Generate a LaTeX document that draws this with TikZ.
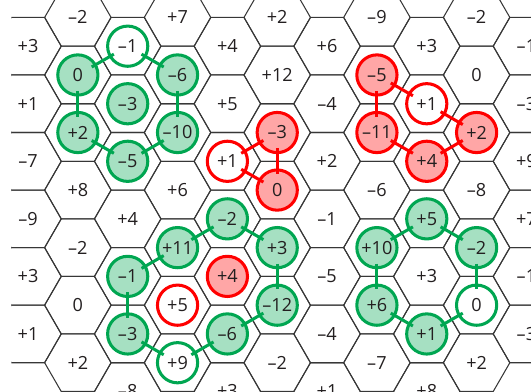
\documentclass[tikz,border=0pt]{standalone}
\usepackage{fontspec}
\setmainfont{Open Sans}
\definecolor{hexgreen}{RGB}{0, 166, 81}
\definecolor{hexred}{RGB}{255, 0, 0}
\definecolor{gridgray}{RGB}{55, 55, 55}
\definecolor{numgray}{RGB}{35, 31, 32}
\usetikzlibrary{positioning}

\begin{document}
\begin{tikzpicture}[
    hexline/.style={draw=gridgray, line width=0.9pt},
    cell/.style={circle, minimum size=1.21cm, inner sep=0pt, text=numgray,
                 font=\fontsize{15.5}{18}\selectfont},
    mkn/.style={},
    mkg/.style={draw=hexgreen, fill=hexgreen!35, line width=2.6pt},
    mkG/.style={draw=hexgreen, line width=2.6pt},
    mkr/.style={draw=hexred, fill=hexred!35, line width=2.6pt},
    mkR/.style={draw=hexred, line width=2.6pt},
    link/.style={line width=2.6pt, shorten <=-0.17cm, shorten >=-0.17cm},
    glink/.style={link, draw=hexgreen},
    rlink/.style={link, draw=hexred}
  ]
  \useasboundingbox (0,0) rectangle (15.98,-11.77);
  \clip (0.343,0) rectangle (15.98,-11.77);

  % hex grid, one column at a time: value/mark
  \foreach \c/\vals in {
      0/{+3/n,+1/n,–7/n,–9/n,+3/n,+1/n},
      1/{–2/n,0/g,+2/g,+8/n,–2/n,0/n,+2/n},
      2/{–1/G,–3/g,–5/g,+4/n,–1/g,–3/g,–8/n},
      3/{+7/n,–6/g,–10/g,+6/n,+11/g,+5/R,+9/G},
      4/{+4/n,+5/n,+1/R,–2/g,+4/r,–6/g,+3/n},
      5/{+2/n,+12/n,–3/r,0/r,+3/g,–12/g,–2/n},
      6/{+6/n,–4/n,+2/n,–1/n,–5/n,–4/n,+1/n},
      7/{–9/n,–5/r,–11/r,–6/n,+10/g,+6/g,–7/n},
      8/{+3/n,+1/R,+4/r,+5/g,+3/n,+1/g,+8/n},
      9/{–2/n,0/n,+2/r,–8/n,–2/g,0/G,+2/n},
      10/{–1/n,–3/n,+9/n,+7/n,–1/n,–3/n}}{
    \pgfmathsetmacro\cx{0.843+1.5*\c}
    \foreach \v/\m [count=\r from 0] in \vals {
      \pgfmathsetmacro\cy{-1.39+0.866*mod(\c,2)-1.732*\r}
      \draw[hexline] (\cx,\cy) +(0:1) -- +(60:1) -- +(120:1) -- +(180:1)
        -- +(240:1) -- +(300:1) -- cycle;
      \node[cell, mk\m] (c\c-\r) at (\cx,\cy) {\v};
    }
  }

  % green, upper left
  \draw[glink] (c1-1) -- (c2-0);
  \draw[glink] (c2-0) -- (c3-1);
  \draw[glink] (c1-1) -- (c1-2);
  \draw[glink] (c3-1) -- (c3-2);
  \draw[glink] (c1-2) -- (c2-2);
  \draw[glink] (c2-2) -- (c3-2);
  % red, centre
  \draw[rlink] (c4-2) -- (c5-2);
  \draw[rlink] (c4-2) -- (c5-3);
  \draw[rlink] (c5-2) -- (c5-3);
  % red, upper right
  \draw[rlink] (c7-1) -- (c7-2);
  \draw[rlink] (c7-1) -- (c8-1);
  \draw[rlink] (c8-1) -- (c9-2);
  \draw[rlink] (c7-2) -- (c8-2);
  \draw[rlink] (c8-2) -- (c9-2);
  % green, lower left
  \draw[glink] (c4-3) -- (c3-4);
  \draw[glink] (c3-4) -- (c2-4);
  \draw[glink] (c4-3) -- (c5-4);
  \draw[glink] (c5-4) -- (c5-5);
  \draw[glink] (c2-4) -- (c2-5);
  \draw[glink] (c2-5) -- (c3-6);
  \draw[glink] (c3-6) -- (c4-5);
  \draw[glink] (c4-5) -- (c5-5);
  % green, lower right
  \draw[glink] (c8-3) -- (c7-4);
  \draw[glink] (c8-3) -- (c9-4);
  \draw[glink] (c7-4) -- (c7-5);
  \draw[glink] (c9-4) -- (c9-5);
  \draw[glink] (c7-5) -- (c8-5);
  \draw[glink] (c8-5) -- (c9-5);
\end{tikzpicture}
\end{document}
